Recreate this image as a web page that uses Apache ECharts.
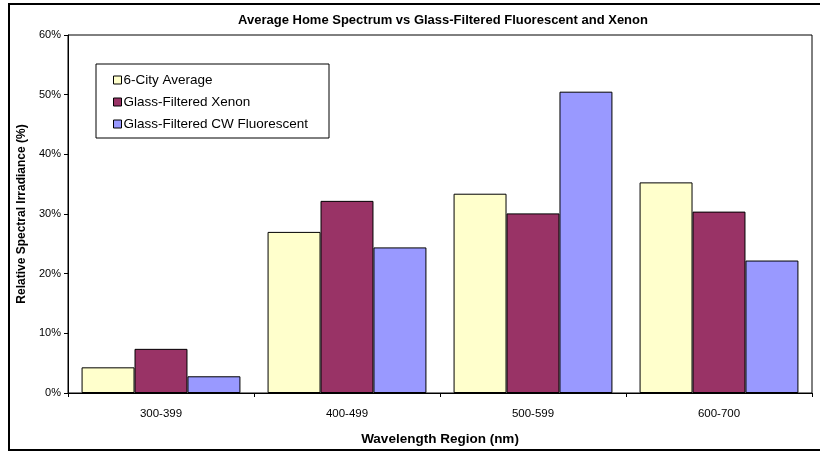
<!DOCTYPE html>
<html>
<head>
<meta charset="utf-8">
<script src="https://cdn.jsdelivr.net/npm/echarts@6/dist/echarts.min.js"></script>
<style>
    html, body { margin: 0; padding: 0; background: #fff; }
    #chart { width: 820px; height: 451px; }
</style>
</head>
<body>
<div id="chart"></div>
<script>
// wavelength regions and spectral shares (%)
var regions = ['300-399', '400-499', '500-599', '600-700'];
var cityAvg = [4.3, 27.0, 33.4, 35.3];
var xenon = [7.4, 32.2, 30.1, 30.4];
var fluorescent = [2.8, 24.4, 50.5, 22.2];
var yTicks = [0, 10, 20, 30, 40, 50, 60];

var font = 'Arial, "Liberation Sans", sans-serif';

function barSeries(name, data, color) {
    return {
        name: name,
        type: 'bar',
        data: data,
        barGap: '0%',
        barCategoryGap: '14.6%',
        itemStyle: {
            color: color,
            borderColor: '#000',
            borderWidth: 1
        },
        emphasis: { disabled: true }
    };
}

var option = {
    animation: false,
    title: {
        text: 'Average Home Spectrum vs Glass-Filtered Fluorescent and Xenon',
        left: 438,
        textAlign: 'center',
        top: 9,
        textStyle: { fontFamily: font, fontSize: 13, fontWeight: 'bold', color: '#000' }
    },
    graphic: [
        {
            type: 'rect',
            shape: { x: 9, y: 4, width: 820, height: 446 },
            style: { fill: 'none', stroke: '#000', lineWidth: 2 },
            silent: true
        },
        {
            type: 'rect',
            shape: { x: 96, y: 64, width: 233, height: 74 },
            style: { fill: '#fff', stroke: '#000', lineWidth: 1 },
            z: 10,
            silent: true
        }
    ],
    legend: {
        orient: 'vertical',
        left: 108,
        top: 68,
        itemWidth: 8,
        itemHeight: 8,
        itemGap: 8,
        z: 20,
        icon: 'rect',
        itemStyle: { borderColor: '#000', borderWidth: 1 },
        textStyle: { fontFamily: font, fontSize: 13.5, color: '#000', padding: [0, 0, 0, -3] },
        data: ['6-City Average', 'Glass-Filtered Xenon', 'Glass-Filtered CW Fluorescent']
    },
    grid: {
        left: 68,
        right: 8,
        top: 35,
        bottom: 54,
        show: true,
        borderColor: '#000',
        borderWidth: 1,
        containLabel: false
    },
    xAxis: {
        type: 'category',
        data: regions,
        name: 'Wavelength Region (nm)',
        nameLocation: 'middle',
        nameGap: 39,
        nameTextStyle: { fontFamily: font, fontSize: 13.5, fontWeight: 'bold', color: '#000' },
        axisLine: { lineStyle: { color: '#000', width: 1 } },
        axisTick: { show: true, length: 4, inside: false, lineStyle: { color: '#000' } },
        axisLabel: { fontFamily: font, fontSize: 11.5, color: '#000', margin: 15 },
        splitLine: { show: false }
    },
    yAxis: {
        type: 'value',
        min: yTicks[0],
        max: yTicks[yTicks.length - 1],
        interval: 10,
        name: 'Relative Spectral Irradiance (%)',
        nameLocation: 'middle',
        nameGap: 38,
        nameTextStyle: { fontFamily: font, fontSize: 12, fontWeight: 'bold', color: '#000' },
        axisLine: { show: true, lineStyle: { color: '#000', width: 1 } },
        axisTick: { show: true, length: 4, lineStyle: { color: '#000' } },
        axisLabel: {
            fontFamily: font, fontSize: 11, color: '#000', margin: 7,
            formatter: function (v) { return v + '%'; }
        },
        splitLine: { show: false }
    },
    series: [
        barSeries('6-City Average', cityAvg, '#FFFFCC'),
        barSeries('Glass-Filtered Xenon', xenon, '#993366'),
        barSeries('Glass-Filtered CW Fluorescent', fluorescent, '#9999FF')
    ]
};

var chart = echarts.init(document.getElementById('chart'), null, { renderer: 'canvas' });
chart.setOption(option);
</script>
</body>
</html>
